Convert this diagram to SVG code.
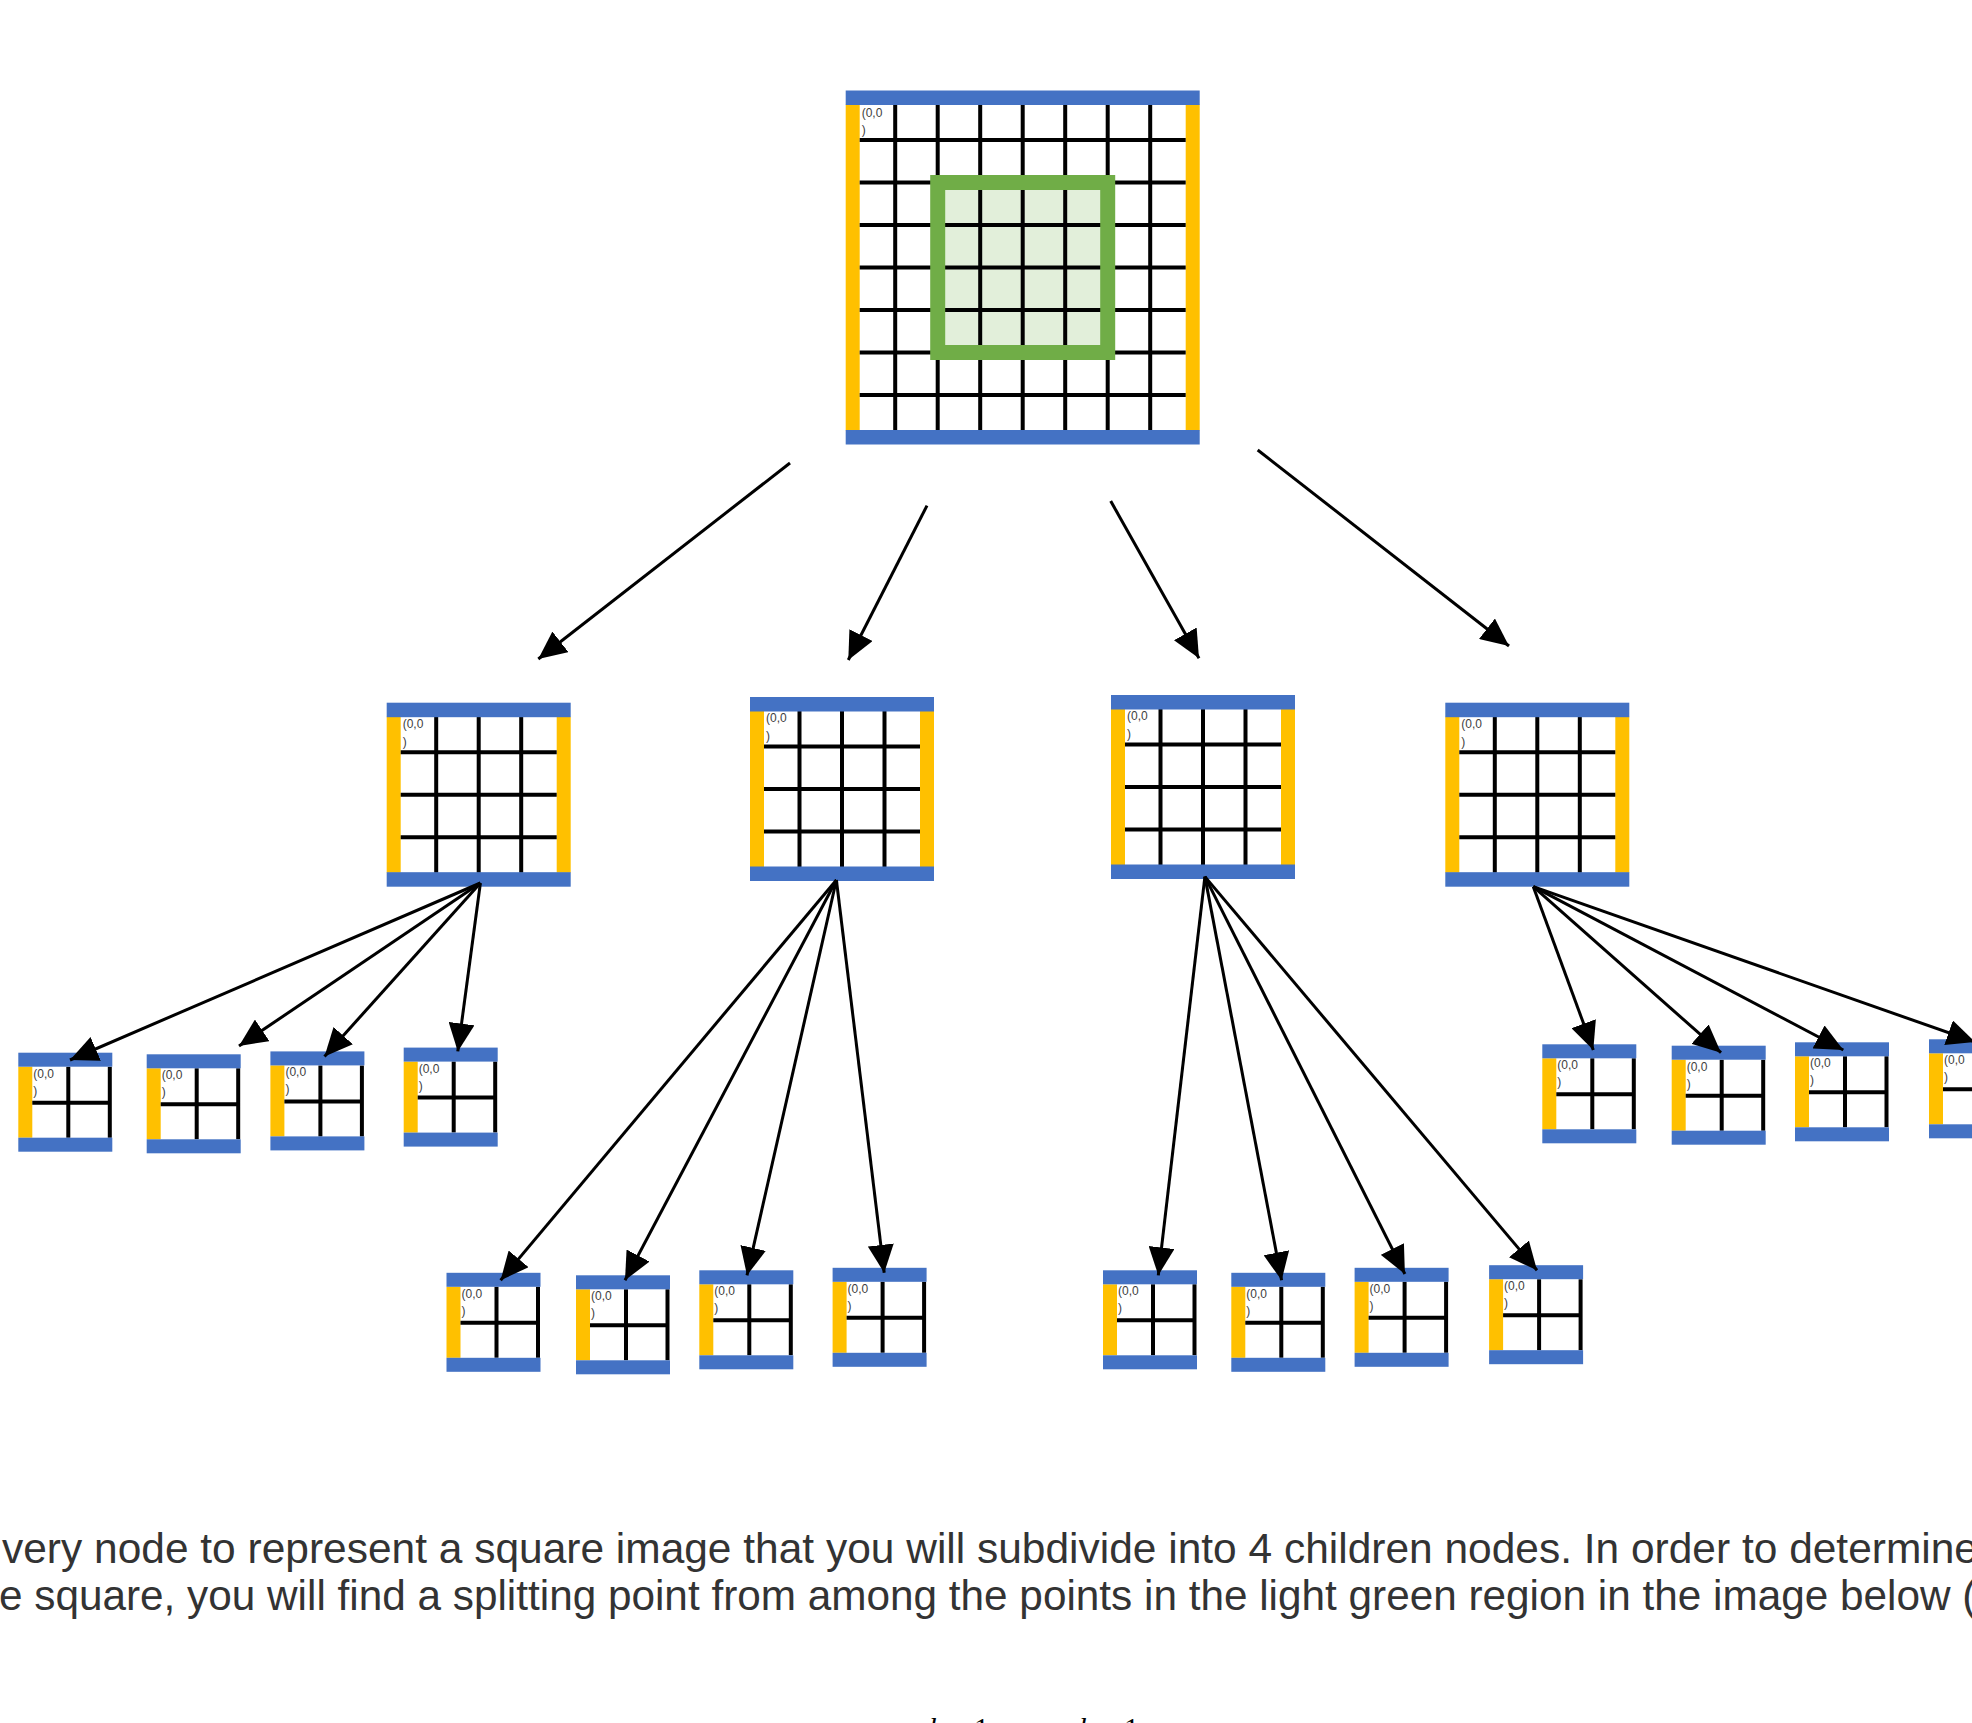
<svg xmlns="http://www.w3.org/2000/svg" width="1972" height="1723" viewBox="0 0 1972 1723">
<style>
.blue{fill:#4472C4}
.yel{fill:#FFC000}
.grid{stroke:#000;stroke-width:4;fill:none}
.lbl{font-family:"Liberation Sans",Arial,sans-serif;font-size:12px;fill:#404040}
#connectors line{stroke:#000;stroke-width:3;marker-end:url(#ah)}
.para{font-family:"Liberation Sans",Arial,sans-serif;font-size:42.3px;fill:#333333}
.math{font-family:"Liberation Serif","Times New Roman",serif;font-style:italic;font-size:30px;fill:#000}
.mathn{font-family:"Liberation Serif","Times New Roman",serif;font-size:30px;fill:#000}
</style>
<defs>
<marker id="ah" markerUnits="userSpaceOnUse" markerWidth="28" markerHeight="26" refX="28" refY="13" orient="auto" viewBox="0 0 28 26"><path d="M0,0 L28,13 L0,26 z" fill="#000"/></marker>
<g id="sq2">
<rect class="yel" x="0" y="14" width="14" height="156"/>
<rect class="yel" x="170" y="14" width="14" height="156"/>
<path class="grid" d="M49.5,14V170M92,14V170M134.5,14V170M14,49.5H170M14,92H170M14,134.5H170"/>
<rect class="blue" x="0" y="0" width="184" height="14.5"/>
<rect class="blue" x="0" y="169.5" width="184" height="14.5"/>
</g>
<g id="sq3">
<rect class="yel" x="0" y="14" width="14" height="71"/>
<path class="grid" d="M50,14V85M91.5,14V85M14,50H93.5"/>
<rect class="blue" x="0" y="0" width="94" height="14"/>
<rect class="blue" x="0" y="85" width="94" height="14"/>
</g>
</defs>
<rect width="1972" height="1723" fill="#fff"/>

<g id="root" transform="translate(845.7,90.5)">
<rect x="92" y="92" width="170" height="170" fill="#E2EFDA"/>
<rect class="yel" x="0" y="14" width="14" height="326"/>
<rect class="yel" x="340" y="14" width="14" height="326"/>
<path class="grid" d="M49.5,14V340M92,14V340M134.5,14V340M177,14V340M219.5,14V340M262,14V340M304.5,14V340M14,49.5H340M14,92H340M14,134.5H340M14,177H340M14,219.5H340M14,262H340M14,304.5H340"/>
<rect x="92" y="92" width="170" height="170" fill="none" stroke="#70AD47" stroke-width="15"/>
<rect class="blue" x="0" y="0" width="354" height="14.5"/>
<rect class="blue" x="0" y="339.5" width="354" height="14.5"/>
<text class="lbl" x="16" y="26">(0,0</text><text class="lbl" x="16" y="43">)</text>
</g>

<g id="nA" transform="translate(386.7,702.7)"><use href="#sq2"/><text class="lbl" x="16" y="25">(0,0</text><text class="lbl" x="16" y="43">)</text></g>
<g id="nB" transform="translate(750,697)"><use href="#sq2"/><text class="lbl" x="16" y="25">(0,0</text><text class="lbl" x="16" y="43">)</text></g>
<g id="nC" transform="translate(1111,695)"><use href="#sq2"/><text class="lbl" x="16" y="25">(0,0</text><text class="lbl" x="16" y="43">)</text></g>
<g id="nD" transform="translate(1445.3,702.7)"><use href="#sq2"/><text class="lbl" x="16" y="25">(0,0</text><text class="lbl" x="16" y="43">)</text></g>

<g id="nA1" transform="translate(18.3,1052.7)"><use href="#sq3"/><text class="lbl" x="15" y="25">(0,0</text><text class="lbl" x="15" y="42">)</text></g>
<g id="nA2" transform="translate(146.7,1054.3)"><use href="#sq3"/><text class="lbl" x="15" y="25">(0,0</text><text class="lbl" x="15" y="42">)</text></g>
<g id="nA3" transform="translate(270.4,1051.4)"><use href="#sq3"/><text class="lbl" x="15" y="25">(0,0</text><text class="lbl" x="15" y="42">)</text></g>
<g id="nA4" transform="translate(403.7,1047.6)"><use href="#sq3"/><text class="lbl" x="15" y="25">(0,0</text><text class="lbl" x="15" y="42">)</text></g>
<g id="nB1" transform="translate(446.5,1272.8)"><use href="#sq3"/><text class="lbl" x="15" y="25">(0,0</text><text class="lbl" x="15" y="42">)</text></g>
<g id="nB2" transform="translate(576,1275.3)"><use href="#sq3"/><text class="lbl" x="15" y="25">(0,0</text><text class="lbl" x="15" y="42">)</text></g>
<g id="nB3" transform="translate(699.3,1270.3)"><use href="#sq3"/><text class="lbl" x="15" y="25">(0,0</text><text class="lbl" x="15" y="42">)</text></g>
<g id="nB4" transform="translate(832.6,1267.8)"><use href="#sq3"/><text class="lbl" x="15" y="25">(0,0</text><text class="lbl" x="15" y="42">)</text></g>
<g id="nC1" transform="translate(1103,1270.3)"><use href="#sq3"/><text class="lbl" x="15" y="25">(0,0</text><text class="lbl" x="15" y="42">)</text></g>
<g id="nC2" transform="translate(1231.3,1272.8)"><use href="#sq3"/><text class="lbl" x="15" y="25">(0,0</text><text class="lbl" x="15" y="42">)</text></g>
<g id="nC3" transform="translate(1354.6,1267.8)"><use href="#sq3"/><text class="lbl" x="15" y="25">(0,0</text><text class="lbl" x="15" y="42">)</text></g>
<g id="nC4" transform="translate(1489.1,1265.2)"><use href="#sq3"/><text class="lbl" x="15" y="25">(0,0</text><text class="lbl" x="15" y="42">)</text></g>
<g id="nD1" transform="translate(1542.3,1044.3)"><use href="#sq3"/><text class="lbl" x="15" y="25">(0,0</text><text class="lbl" x="15" y="42">)</text></g>
<g id="nD2" transform="translate(1671.7,1045.7)"><use href="#sq3"/><text class="lbl" x="15" y="25">(0,0</text><text class="lbl" x="15" y="42">)</text></g>
<g id="nD3" transform="translate(1795,1042.3)"><use href="#sq3"/><text class="lbl" x="15" y="25">(0,0</text><text class="lbl" x="15" y="42">)</text></g>
<g id="nD4" transform="translate(1929,1039.3)"><use href="#sq3"/><text class="lbl" x="15" y="25">(0,0</text><text class="lbl" x="15" y="42">)</text></g>

<g id="connectors">
<line x1="790" y1="463" x2="538.3" y2="659"/>
<line x1="927" y1="505.6" x2="848.3" y2="660"/>
<line x1="1110.7" y1="501" x2="1199" y2="658.3"/>
<line x1="1257.7" y1="450" x2="1509" y2="646"/>
<line x1="480.4" y1="883" x2="70" y2="1060"/>
<line x1="480.4" y1="883" x2="239" y2="1046"/>
<line x1="480.4" y1="883" x2="324.5" y2="1056.5"/>
<line x1="480.4" y1="883" x2="457.8" y2="1051.4"/>
<line x1="836.4" y1="880" x2="500.6" y2="1280.3"/>
<line x1="836.4" y1="880" x2="625" y2="1280.3"/>
<line x1="836.4" y1="880" x2="747" y2="1275.3"/>
<line x1="836.4" y1="880" x2="884.2" y2="1272.8"/>
<line x1="1204.9" y1="876.6" x2="1158.3" y2="1275.3"/>
<line x1="1204.9" y1="876.6" x2="1281.6" y2="1280.3"/>
<line x1="1204.9" y1="876.6" x2="1404.9" y2="1274"/>
<line x1="1204.9" y1="876.6" x2="1537" y2="1270.3"/>
<line x1="1533.3" y1="886.7" x2="1593.3" y2="1050"/>
<line x1="1533.3" y1="886.7" x2="1721" y2="1052.7"/>
<line x1="1533.3" y1="886.7" x2="1843.3" y2="1050"/>
<line x1="1533.3" y1="886.7" x2="1975" y2="1042"/>
</g>

<g id="caption">
<text class="para" x="2" y="1563" textLength="1976" lengthAdjust="spacingAndGlyphs">very node to represent a square image that you will subdivide into 4 children nodes. In order to determine</text>
<text class="para" x="-1" y="1610">e square, you will find a splitting point from among the points in the light green region in the image below (</text>
<text class="math" x="929" y="1738">k</text><text class="mathn" x="974" y="1738">1</text>
<text class="math" x="1079" y="1738">k</text><text class="mathn" x="1124" y="1738">1</text>
</g>
</svg>
